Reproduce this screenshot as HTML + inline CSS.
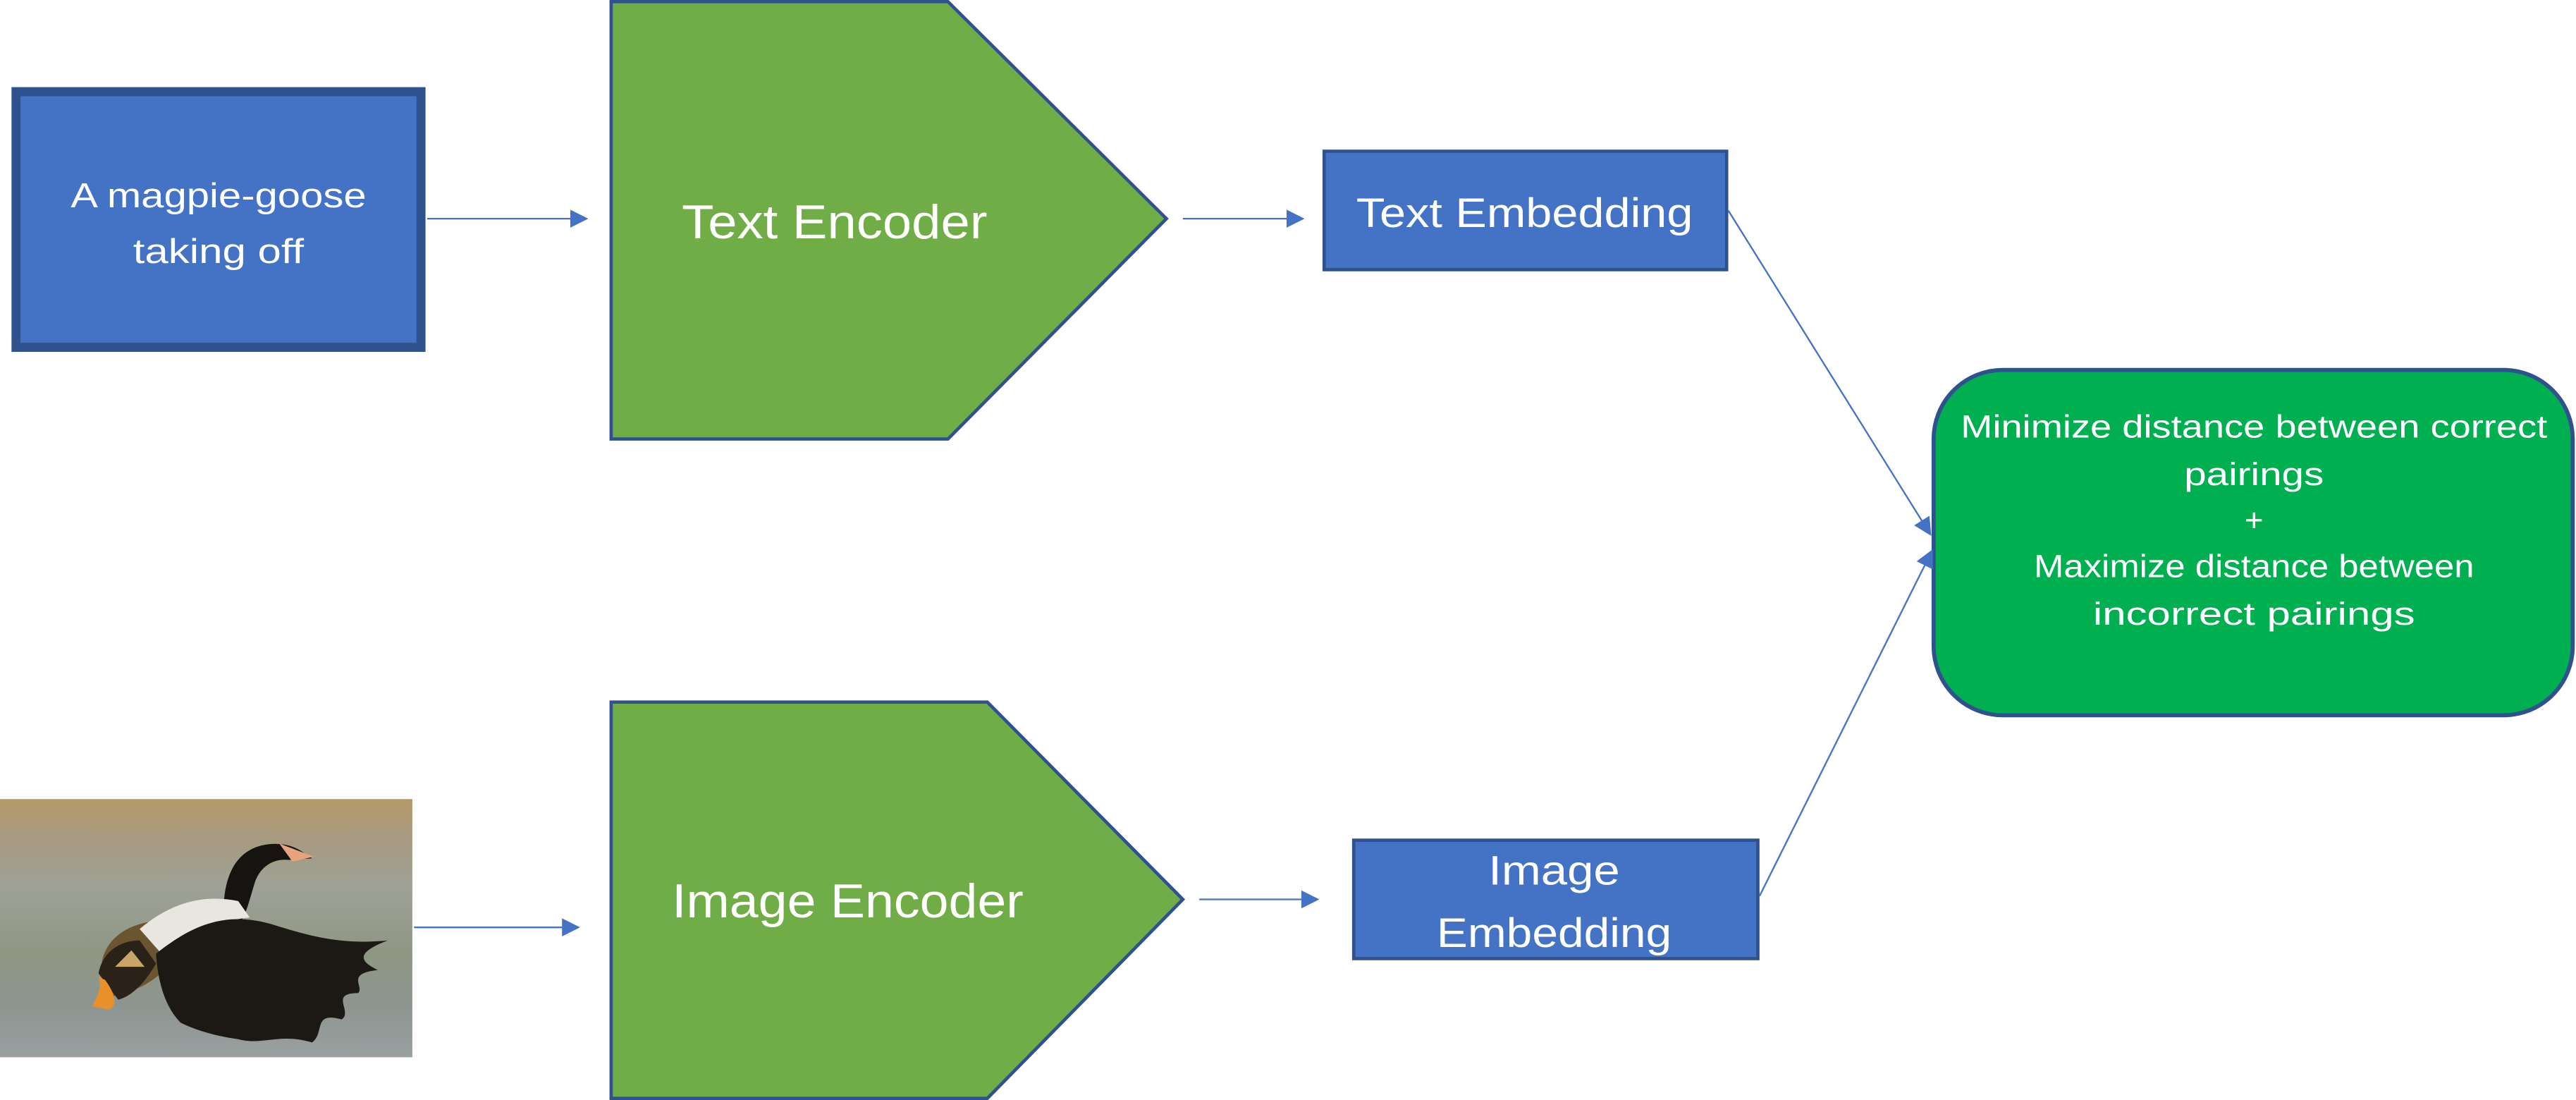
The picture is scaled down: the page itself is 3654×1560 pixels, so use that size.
<!DOCTYPE html>
<html><head><meta charset="utf-8"><style>
html,body{margin:0;padding:0;background:#fff;}
svg{display:block;}
text{font-family:"Liberation Sans",sans-serif;fill:#fff;}
</style></head><body>
<svg width="3654" height="1560" viewBox="0 0 1568 669" preserveAspectRatio="none" xmlns="http://www.w3.org/2000/svg">
<defs>
<marker id="ah" viewBox="0 0 10 10" refX="9" refY="5" markerWidth="11" markerHeight="11" markerUnits="userSpaceOnUse" orient="auto">
<path d="M0,0 L10,5 L0,10 z" fill="#4472C4"/></marker>
<linearGradient id="bg" x1="0" y1="0" x2="0" y2="1">
<stop offset="0" stop-color="#b59a6a"/><stop offset="0.15" stop-color="#a79a80"/>
<stop offset="0.35" stop-color="#9ea197"/><stop offset="0.6" stop-color="#8f9683"/>
<stop offset="0.8" stop-color="#8e9590"/><stop offset="1" stop-color="#9a9fa0"/></linearGradient>
</defs>

<rect x="9.75" y="55.75" width="246.5" height="155.5" fill="#4472C4" stroke="#2F528F" stroke-width="5.5"/>
<text x="133" y="126" font-size="21" text-anchor="middle" textLength="180" lengthAdjust="spacingAndGlyphs">A magpie-goose</text>
<text x="133" y="160" font-size="21" text-anchor="middle" textLength="104" lengthAdjust="spacingAndGlyphs">taking off</text>
<line x1="260" y1="133" x2="357" y2="133" stroke="#4472C4" stroke-width="1" marker-end="url(#ah)"/>

<polygon points="372,1 577,1 710,133 577,267 372,267" fill="#70AD47" stroke="#2F528F" stroke-width="2"/>
<text x="508" y="145" font-size="29" text-anchor="middle" textLength="186" lengthAdjust="spacingAndGlyphs">Text Encoder</text>
<line x1="720" y1="133" x2="793" y2="133" stroke="#4472C4" stroke-width="1" marker-end="url(#ah)"/>

<rect x="806" y="92" width="245" height="72" fill="#4472C4" stroke="#2F528F" stroke-width="2"/>
<text x="928" y="138" font-size="25" text-anchor="middle" textLength="205" lengthAdjust="spacingAndGlyphs">Text Embedding</text>
<line x1="1052" y1="128" x2="1175" y2="325" stroke="#4472C4" stroke-width="1" marker-end="url(#ah)"/>

<rect x="1177" y="225" width="389" height="210" rx="42" ry="42" fill="#00B050" stroke="#2F528F" stroke-width="2.5"/>
<text x="1372" y="266" font-size="19.5" text-anchor="middle" textLength="357" lengthAdjust="spacingAndGlyphs">Minimize distance between correct</text>
<text x="1372" y="295" font-size="19.5" text-anchor="middle" textLength="85" lengthAdjust="spacingAndGlyphs">pairings</text>
<text x="1372" y="323" font-size="19.5" text-anchor="middle">+</text>
<text x="1372" y="351" font-size="19.5" text-anchor="middle" textLength="268" lengthAdjust="spacingAndGlyphs">Maximize distance between</text>
<text x="1372" y="380" font-size="19.5" text-anchor="middle" textLength="196" lengthAdjust="spacingAndGlyphs">incorrect pairings</text>

<rect x="0" y="486" width="251" height="157" fill="url(#bg)"/>
<g>
<path d="M136,556 C136,535 142,518 160,514 C170,512 178,514 184,518 L190,522 L176,523 C165,522 158,528 155,537 C152,547 150,555 147,560 Z" fill="#151410"/>
<path d="M62,585 C65,570 78,562 95,560 L100,590 C90,600 78,604 68,606 Z" fill="#6b5430"/>
<path d="M85,565 C105,548 125,544 145,548 L152,558 C130,560 112,572 100,582 Z" fill="#e8e6df"/>
<path d="M95,580 C120,560 140,555 165,562 C185,568 205,575 236,572 C215,580 220,585 230,590 C210,592 222,600 218,604 C200,604 215,615 208,620 C190,615 198,628 190,634 C170,628 160,636 145,632 C130,630 118,626 110,622 C100,612 96,596 95,580 Z" fill="#1c1813"/>
<path d="M60,592 C62,580 72,572 85,572 L95,586 C88,598 80,606 72,608 Z" fill="#2a2118"/>
<path d="M64,596 C70,604 72,612 66,614 L56,612 C60,605 62,600 60,594 Z" fill="#e8902a"/>
<path d="M70,588 L80,578 L88,588 Z" fill="#c9a56a"/>
<path d="M170,513 L191,521 L178,524 Z" fill="#e7a27f"/>
</g>
<line x1="252" y1="564" x2="352" y2="564" stroke="#4472C4" stroke-width="1" marker-end="url(#ah)"/>

<polygon points="372,427 601,427 720,547 601,668 372,668" fill="#70AD47" stroke="#2F528F" stroke-width="2"/>
<text x="516" y="558" font-size="29" text-anchor="middle" textLength="214" lengthAdjust="spacingAndGlyphs">Image Encoder</text>
<line x1="730" y1="547" x2="802" y2="547" stroke="#4472C4" stroke-width="1" marker-end="url(#ah)"/>

<rect x="824" y="511" width="246" height="72" fill="#4472C4" stroke="#2F528F" stroke-width="2"/>
<text x="946" y="538" font-size="25" text-anchor="middle" textLength="80" lengthAdjust="spacingAndGlyphs">Image</text>
<text x="946" y="576" font-size="25" text-anchor="middle" textLength="143" lengthAdjust="spacingAndGlyphs">Embedding</text>
<line x1="1071" y1="545" x2="1176" y2="335" stroke="#4472C4" stroke-width="1" marker-end="url(#ah)"/>
</svg>
</body></html>
